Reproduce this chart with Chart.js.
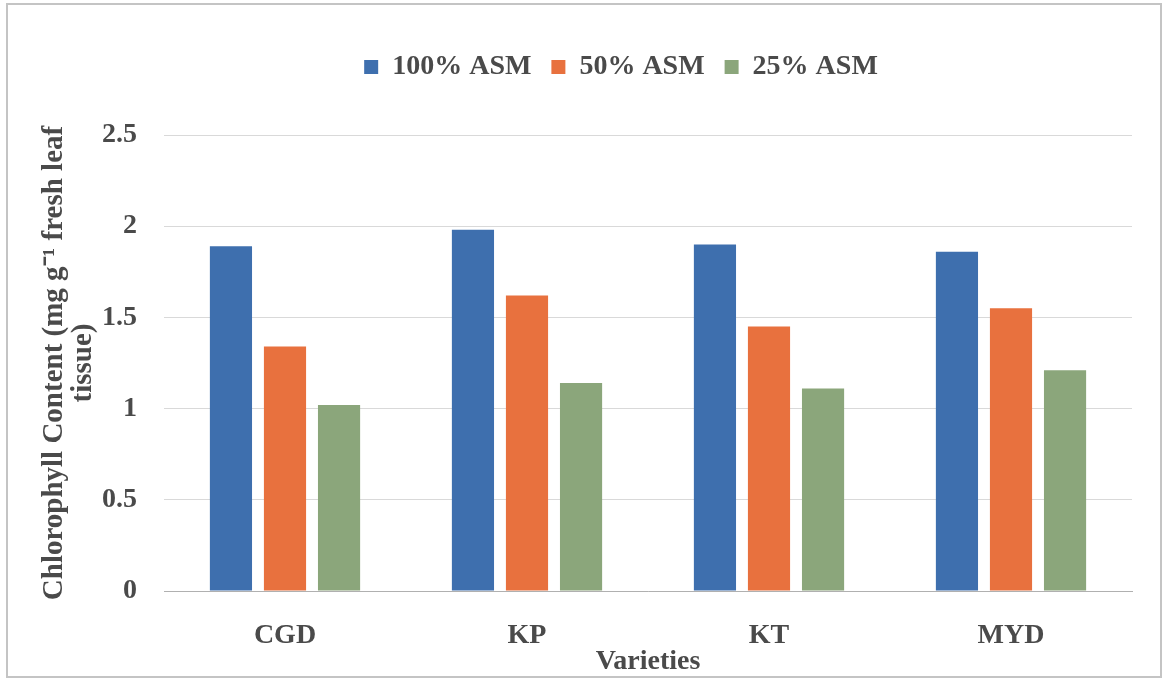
<!DOCTYPE html>
<html>
<head>
<meta charset="utf-8">
<script src="https://cdn.jsdelivr.net/npm/chart.js@4/dist/chart.umd.min.js"></script>
<style>
  body { margin: 0; background: #fff; }
  #frame {
    position: absolute; left: 6px; top: 3px;
    width: 1152px; height: 671px;
    border: 2px solid #c4c4c4;
  }
  canvas { display: block; }
</style>
</head>
<body>
<div id="frame"><canvas id="chart" width="1152" height="671"></canvas></div>
<script>
const varieties = ['CGD', 'KP', 'KT', 'MYD'];
const asm100 = [1.89, 1.98, 1.90, 1.86];
const asm50 = [1.34, 1.62, 1.45, 1.55];
const asm25 = [1.02, 1.14, 1.11, 1.21];
const seriesNames = ['100% ASM', '50% ASM', '25% ASM'];

const textColor = '#4a4a4a';
const font = (size, lh) => ({ family: '"Liberation Serif", "Times New Roman", serif', size: size, weight: 'bold', lineHeight: lh || 1.2 });

// move the legend a bit to the right, it sits over the plot area in the original
const legendShift = {
    id: 'legendShift',
    afterLayout(chart) {
        chart.legend.left += 51;
        chart.legend.right += 51;
    }
};

const ctx = document.getElementById('chart').getContext('2d');
new Chart(ctx, {
    type: 'bar',
    data: {
        labels: varieties,
        datasets: [
            { label: seriesNames[0], data: asm100, backgroundColor: '#3e6fae' },
            { label: seriesNames[1], data: asm50, backgroundColor: '#e8713e' },
            { label: seriesNames[2], data: asm25, backgroundColor: '#8ba67b' }
        ]
    },
    plugins: [legendShift],
    options: {
        responsive: false,
        animation: false,
        layout: { padding: { top: 28, right: 28, bottom: 0, left: 0 } },
        datasets: { bar: { categoryPercentage: 0.67, barPercentage: 0.78 } },
        plugins: {
            legend: {
                position: 'top',
                labels: {
                    color: textColor,
                    font: font(28),
                    boxWidth: 14,
                    boxHeight: 14,
                    padding: 20
                }
            },
            // empty title used as a spacer under the legend
            title: {
                display: true,
                text: ' ',
                weight: 500,
                font: { size: 10 },
                padding: { top: 0, bottom: 32 }
            },
            tooltip: { enabled: false }
        },
        scales: {
            x: {
                grid: { display: false, drawTicks: false },
                border: { color: '#b0b0b0', width: 1 },
                ticks: { color: textColor, font: font(28), padding: 28 },
                title: { display: true, text: 'Varieties', color: textColor, font: font(28, 1), padding: { top: 0, bottom: 0 } },
                afterFit: function(scale) { scale.height = 85; }
            },
            y: {
                min: 0,
                max: 2.5,
                ticks: {
                    stepSize: 0.5,
                    color: textColor,
                    font: font(28),
                    padding: 27,
                    callback: function(value) { return value; }
                },
                grid: { color: '#d9d9d9', drawTicks: false },
                border: { display: false },
                title: {
                    display: true,
                    text: ['Chlorophyll Content (mg g\u207B\u00B9 fresh leaf', 'tissue)'],
                    color: textColor,
                    font: font(29, 1),
                    padding: { top: 32, bottom: 0 }
                },
                afterFit: function(scale) { scale.width = 156; }
            }
        }
    }
});
</script>
</body>
</html>
